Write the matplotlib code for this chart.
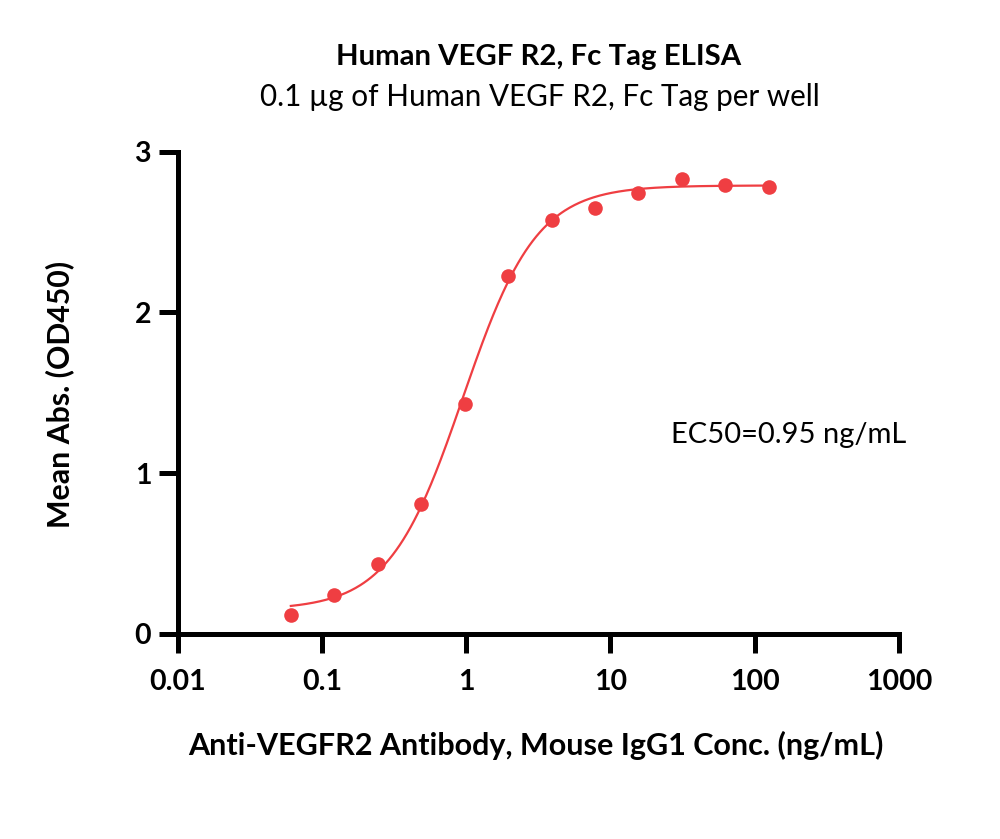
import numpy as np
import matplotlib
matplotlib.use("Agg")
import matplotlib.pyplot as plt
from matplotlib.ticker import FixedLocator, FixedFormatter, NullLocator

plt.rcParams['font.family'] = ['Lato', 'DejaVu Sans']

# Data
conc = [0.061, 0.122, 0.244, 0.488, 0.977, 1.95, 3.91, 7.81, 15.6, 31.25, 62.5, 125]
od450 = [0.12, 0.24, 0.437, 0.81, 1.433, 2.227, 2.577, 2.65, 2.743, 2.83, 2.79, 2.78]

# 4PL fit parameters
fit_bottom = 0.15
fit_top = 2.79
fit_ec50 = 0.95
fit_hill = 1.7

x_ticks = [0.01, 0.1, 1, 10, 100, 1000]
x_ticklabels = ['0.01', '0.1', '1', '10', '100', '1000']
y_ticks = [0, 1, 2, 3]
y_ticklabels = ['0', '1', '2', '3']

title = "Human VEGF R2, Fc Tag ELISA"
subtitle = "0.1 \u00b5g of Human VEGF R2, Fc Tag per well"
xlabel = "Anti-VEGFR2 Antibody, Mouse IgG1 Conc. (ng/mL)"
ylabel = "Mean Abs. (OD450)"
annotation = "EC50=0.95 ng/mL"

red = '#EF3E42'
H = 839.0

fig = plt.figure(figsize=(10, 8.39), dpi=100)
ax = fig.add_axes([0.1775, 1 - 634 / H, 0.7215, (634 - 151.7) / H])

xs = np.logspace(np.log10(conc[0]), np.log10(conc[-1]), 400)
ys = fit_bottom + (fit_top - fit_bottom) / (1 + (fit_ec50 / xs) ** fit_hill)
ax.plot(xs, ys, color=red, lw=1.6, zorder=2)
ax.plot(conc, od450, 'o', color=red, ms=10.5, mec='none', zorder=3, clip_on=False)

ax.set_xscale('log')
ax.set_xlim(0.01, 1000)
ax.set_ylim(0, 3)
ax.xaxis.set_major_locator(FixedLocator(x_ticks))
ax.xaxis.set_major_formatter(FixedFormatter(x_ticklabels))
ax.xaxis.set_minor_locator(NullLocator())
ax.set_yticks(y_ticks)
ax.set_yticklabels(y_ticklabels)

for s in ['top', 'right']:
    ax.spines[s].set_visible(False)
for s in ['left', 'bottom']:
    ax.spines[s].set_linewidth(3.6)
    ax.spines[s].set_capstyle('projecting')
ax.tick_params(axis='both', width=3.6, length=14, labelsize=20.5)
ax.tick_params(axis='x', pad=11)
ax.tick_params(axis='y', pad=5)
for lbl in ax.get_xticklabels() + ax.get_yticklabels():
    lbl.set_fontweight('bold')

fig.text(0.536, 1 - 745 / H, xlabel, ha='center', va='center', fontsize=22, fontweight='bold')
fig.text(0.060, 1 - 394 / H, ylabel, ha='center', va='center', rotation=90, fontsize=21.8, fontweight='bold')

fig.text(0.5385, 1 - 57 / H, title, ha='center', va='center', fontsize=21.2, fontweight='bold')
fig.text(0.5395, 1 - 97 / H, subtitle, ha='center', va='center', fontsize=21.3)
fig.text(0.789, 1 - 435 / H, annotation, ha='center', va='center', fontsize=21)

fig.savefig('out.png', dpi=100, facecolor='white')
